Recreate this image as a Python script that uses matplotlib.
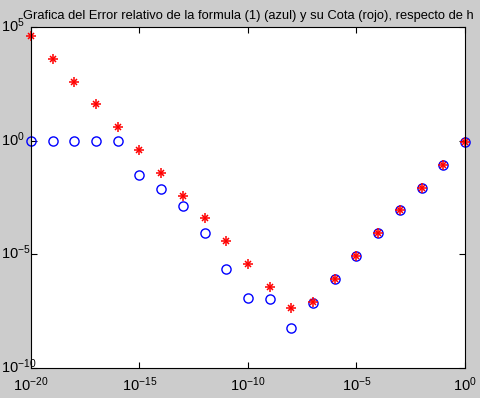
import matplotlib
matplotlib.use("Agg")
import matplotlib.pyplot as plt
import matplotlib.transforms as mtransforms
import numpy as np

plt.rcParams['font.family'] = ['Liberation Sans', 'DejaVu Sans']
plt.rcParams['mathtext.fontset'] = 'custom'
plt.rcParams['mathtext.rm'] = 'Liberation Sans'
plt.rcParams['mathtext.default'] = 'regular'

# paso h
h = [1e-20, 1e-19, 1e-18, 1e-17, 1e-16, 1e-15, 1e-14, 1e-13, 1e-12, 1e-11, 1e-10,
     1e-9, 1e-8, 1e-7, 1e-6, 1e-5, 1e-4, 1e-3, 1e-2, 1e-1, 1e0]

# error relativo (azul)
error_rel = [1.0, 1.0, 1.0, 1.0, 1.0, 2.95e-2, 7.4e-3, 1.4e-3, 8.3e-5, 2.2e-6, 1.15e-7,
             1.05e-7, 5.5e-9, 7.4e-8, 7.9e-7, 8.1e-6, 8.3e-5, 8.5e-4, 7.9e-3, 8.1e-2, 9.1e-1]

# cota (rojo)
cota = [4.0e4, 3.8e3, 3.7e2, 4.1e1, 3.9, 3.7e-1, 3.6e-2, 3.6e-3, 3.8e-4, 3.7e-5, 3.7e-6,
        3.6e-7, 4.2e-8, 8.3e-8, 7.9e-7, 8.1e-6, 8.3e-5, 8.5e-4, 7.9e-3, 8.1e-2, 9.1e-1]

xticks = [1e-20, 1e-15, 1e-10, 1e-5, 1e0]
yticks = [1e-10, 1e-5, 1e0, 1e5]

fig = plt.figure(figsize=(4.81, 3.98), dpi=100, facecolor='#cccccc')
ax = fig.add_axes([31/481, 30/398, 434/481, 341/398])
ax.set_facecolor('white')

ax.loglog(h, error_rel, linestyle='none', marker='o', markersize=6.6,
          markerfacecolor='none', markeredgecolor='blue', markeredgewidth=1.0, clip_on=False)
# asterisco estilo matlab: '+' grande con 'x' pequena
ax.loglog(h, cota, linestyle='none', marker='+', markersize=7.5,
          markeredgecolor='red', markeredgewidth=1.1, clip_on=False)
ax.loglog(h, cota, linestyle='none', marker='x', markersize=4.5,
          markeredgecolor='red', markeredgewidth=1.1, clip_on=False)

ax.set_xlim(1e-20, 1e0)
ax.set_ylim(1e-10, 1e5)
ax.set_xticks(xticks)
ax.set_yticks(yticks)
ax.set_xticklabels([r'$10^{%d}$' % int(np.log10(v)) for v in xticks])
ax.set_yticklabels([r'$10^{%d}$' % int(np.log10(v)) for v in yticks], ha='left')
ax.minorticks_off()
ax.tick_params(direction='in', top=True, right=True, length=4, width=0.8,
               labelsize=10.5, colors='black')
ax.tick_params(axis='x', pad=5)
ax.tick_params(axis='y', pad=21.5)
for s in ax.spines.values():
    s.set_linewidth(0.8)

# subir un poco las etiquetas del eje y
shift = mtransforms.ScaledTranslation(0, 2/72, fig.dpi_scale_trans)
for lbl in ax.get_yticklabels():
    lbl.set_transform(lbl.get_transform() + shift)

ax.set_title('Grafica del Error relativo de la formula (1) (azul) y su Cota (rojo), respecto de h',
             fontsize=9.3, pad=6)

fig.savefig('out.png', dpi=100, facecolor=fig.get_facecolor())
